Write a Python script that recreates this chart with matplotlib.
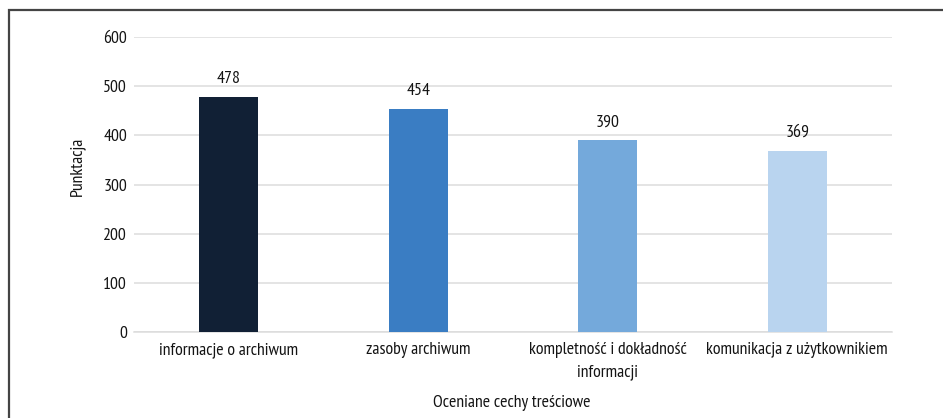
import matplotlib
matplotlib.use("Agg")
import matplotlib.pyplot as plt
from matplotlib.patches import Rectangle

plt.rcParams['font.family'] = ['PT Sans Narrow', 'DejaVu Sans']
plt.rcParams['font.weight'] = 'normal'

categories = ["informacje o archiwum", "zasoby archiwum",
              "kompletność i dokładność\ninformacji", "komunikacja z użytkownikiem"]
values = [478, 454, 390, 369]
colors = ["#112035", "#3a7dc3", "#74a9db", "#b9d4ef"]
yticks = [0, 100, 200, 300, 400, 500, 600]

W, H = 943, 418
fig = plt.figure(figsize=(W / 100, H / 100), dpi=100)
ax = fig.add_axes([134 / W, (H - 332) / H, 758 / W, 295 / H])

text_color = "#141414"
fs = 12.8

x = range(len(categories))
bars = ax.bar(x, values, width=0.311, color=colors, zorder=3)
for b, v in zip(bars, values):
    ax.annotate(str(v), (b.get_x() + b.get_width() / 2, v), xytext=(0, 13),
                textcoords="offset points", ha="center", va="center",
                fontsize=fs, color=text_color, fontweight="normal")

ax.set_ylim(0, 600)
ax.set_xlim(-0.5, len(categories) - 0.5)
ax.set_yticks(yticks)
ax.set_xticks(list(x))
ax.set_xticklabels(categories, linespacing=1.5, fontweight="normal")
ax.yaxis.grid(True, color="#dcdcdc", linewidth=1.1, zorder=0)
for s in ["top", "right", "left"]:
    ax.spines[s].set_visible(False)
ax.spines["bottom"].set_color("#dcdcdc")
ax.spines["bottom"].set_linewidth(1.1)
ax.tick_params(axis="both", length=0, labelsize=fs, colors=text_color)
ax.tick_params(axis="x", pad=7)
ax.tick_params(axis="y", pad=5)

# axis titles
fig.text(77 / W, (H - 166) / H, "Punktacja", rotation=90, ha="center", va="center",
         fontsize=fs, color=text_color, fontweight="normal")
fig.text(512 / W, (H - 403) / H, "Oceniane cechy treściowe", ha="center", va="center",
         fontsize=fs, color=text_color, fontweight="normal")

# outer frame
fig.patches.append(Rectangle((8.5 / W, -0.1), 1.2, (H - 10) / H + 0.1,
                             transform=fig.transFigure, fill=False,
                             edgecolor="#444444", linewidth=1.6))

fig.savefig("out.png", dpi=100)
